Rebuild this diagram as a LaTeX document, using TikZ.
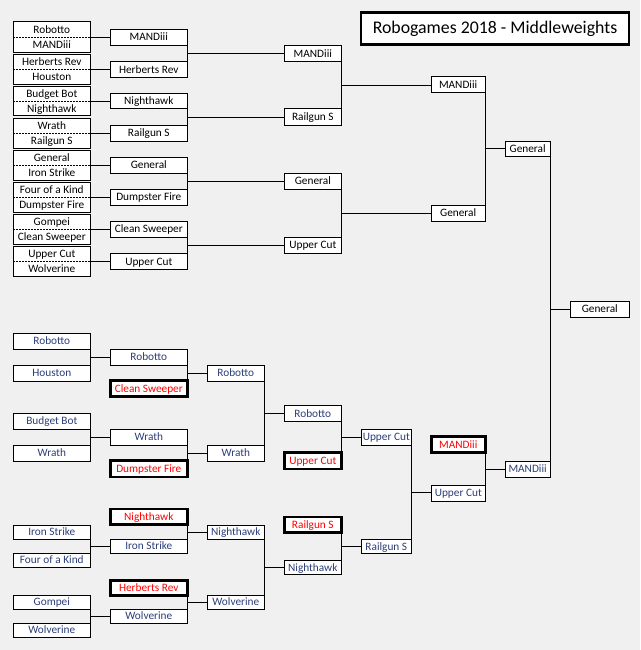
\documentclass[tikz,border=0pt]{standalone}
\usepackage{fontspec}
\setmainfont{Carlito}
\usetikzlibrary{calc}
\definecolor{bg}{HTML}{F0F0F0}
\definecolor{navy}{RGB}{44,62,120}
\definecolor{win}{HTML}{FF0000}
\newcommand\bx[7][]{\node[box,#1,minimum width={#5pt-#3pt},minimum height={#6pt-#4pt}] (#2) at ({(#3+#5)/2},{(#4+#6)/2}) {#7};}
\newcommand\pr[5]{%
  \bx{#1}{13.3}{#2}{90.3}{#3}{}
  \draw[dash pattern=on 2pt off 1pt,line width=0.8pt] (#1.west) -- (#1.east);
  \node[txt] (#1a) at ($(#1.center)!0.5!(#1.north)$) {#4};
  \node[txt] (#1b) at ($(#1.center)!0.5!(#1.south)$) {#5};}
% bracket: upper box, lower box, target
\newcommand\brk[3]{%
  \draw[link] (#1.south east) -- (#2.north east);
  \coordinate (m#1#2) at ($(#1.south east)!0.5!(#2.north east)$);
  \draw[link] (m#1#2) -- (m#1#2 -| #3.west);}
\begin{document}
\begin{tikzpicture}[x=1pt,y=-1pt,
  box/.style={draw=black,fill=white,line width=1pt,inner sep=0pt,outer sep=0pt,
    font=\fontsize{11.3}{13}\selectfont,text height=7.3pt,text depth=0pt},
  txt/.style={inner sep=0pt,outer sep=0pt,font=\fontsize{11.3}{13}\selectfont,text height=7.3pt,text depth=0pt},
  winbox/.style={line width=2.6pt,text=win},
  low/.style={text=navy},
  link/.style={line width=1pt}]
\fill[bg] (0,0) rectangle (640,650);
\useasboundingbox (0,0) rectangle (640,650);

% title
\node[draw=black,fill=white,line width=2.6pt,inner sep=0pt,minimum width=268pt,minimum height=31.6pt,
  font=\fontsize{17.8}{20}\selectfont] (title) at (495,28.5) {Robogames 2018 - Middleweights};

% ---------- top bracket ----------
\pr{p1}{22}{52.5}{Robotto}{MANDiii}
\pr{p2}{54.5}{84.3}{Herberts Rev}{Houston}
\pr{p3}{86.5}{116}{Budget Bot}{Nighthawk}
\pr{p4}{118.5}{148}{Wrath}{Railgun S}
\pr{p5}{150.5}{180.3}{General}{Iron Strike}
\pr{p6}{182.3}{212}{Four of a Kind}{Dumpster Fire}
\pr{p7}{214.5}{244.3}{Gompei}{Clean Sweeper}
\pr{p8}{246.5}{276.5}{Upper Cut}{Wolverine}

\bx{t2a}{110.3}{29.3}{187.3}{45.3}{MANDiii}
\bx{t2b}{110.3}{61.5}{187.3}{77.3}{Herberts Rev}
\bx{t2c}{110.3}{93.3}{187.3}{109}{Nighthawk}
\bx{t2d}{110.3}{125.3}{187.3}{141}{Railgun S}
\bx{t2e}{110.3}{157.3}{187.3}{173}{General}
\bx{t2f}{110.3}{189.3}{187.3}{205}{Dumpster Fire}
\bx{t2g}{110.3}{221.3}{187.3}{237.3}{Clean Sweeper}
\bx{t2h}{110.3}{253.7}{187.3}{269.3}{Upper Cut}

\bx{t3a}{284}{46}{341.7}{61.7}{MANDiii}
\bx{t3b}{284}{109}{341.7}{125.3}{Railgun S}
\bx{t3c}{284}{173.3}{341.7}{189}{General}
\bx{t3d}{284}{237.3}{341.7}{253.3}{Upper Cut}

\bx{t4a}{431}{76.7}{485.3}{92.7}{MANDiii}
\bx{t4b}{431}{205}{485.3}{221}{General}

\bx{t5}{505.3}{141}{550}{156.7}{General}
\bx{fin}{570.3}{301.3}{629.3}{317.3}{General}

\foreach \p/\t in {p1/t2a,p2/t2b,p3/t2c,p4/t2d,p5/t2e,p6/t2f,p7/t2g,p8/t2h}
  \draw[link] (\p.east) -- (\p.east -| \t.west);
\brk{t2a}{t2b}{t3a}
\brk{t2c}{t2d}{t3b}
\brk{t2e}{t2f}{t3c}
\brk{t2g}{t2h}{t3d}
\brk{t3a}{t3b}{t4a}
\brk{t3c}{t3d}{t4b}
\brk{t4a}{t4b}{t5}

% ---------- bottom bracket ----------
\bx[low]{b1a}{13.3}{333.3}{90.3}{349.3}{Robotto}
\bx[low]{b1b}{13.3}{365.3}{90.3}{381.3}{Houston}
\bx[low]{b1c}{13.3}{413.3}{90.3}{429.3}{Budget Bot}
\bx[low]{b1d}{13.3}{445.3}{90.3}{461.3}{Wrath}
\bx[low]{b1e}{13.3}{525.3}{90.3}{539.3}{Iron Strike}
\bx[low]{b1f}{13.3}{553.3}{90.3}{567.3}{Four of a Kind}
\bx[low]{b1g}{13.3}{595.3}{90.3}{609.3}{Gompei}
\bx[low]{b1h}{13.3}{623.3}{90.3}{637.3}{Wolverine}

\bx[low]{b2a}{110.3}{349.3}{187.3}{365.3}{Robotto}
\bx[winbox]{b2b}{110.3}{380.7}{187.3}{396.7}{Clean Sweeper}
\bx[low]{b2c}{110.3}{429.3}{187.3}{445.3}{Wrath}
\bx[winbox]{b2d}{110.3}{460.7}{187.3}{477}{Dumpster Fire}
\bx[winbox]{b2e}{110.3}{509}{187.3}{524.7}{Nighthawk}
\bx[low]{b2f}{110.3}{539.3}{187.3}{553.3}{Iron Strike}
\bx[winbox]{b2g}{110.3}{580.7}{187.3}{595.3}{Herberts Rev}
\bx[low]{b2h}{110.3}{609.3}{187.3}{623.3}{Wolverine}

\bx[low]{b3a}{207.3}{365.3}{264.3}{381.3}{Robotto}
\bx[low]{b3b}{207.3}{445.3}{264.3}{461.3}{Wrath}
\bx[low]{b3c}{207.3}{525.3}{264.3}{539.3}{Nighthawk}
\bx[low]{b3d}{207.3}{595.3}{264.3}{609.3}{Wolverine}

\bx[low]{b4a}{284.3}{405.7}{341.3}{421.3}{Robotto}
\bx[winbox]{b4b}{284.3}{452.7}{341.3}{469}{Upper Cut}
\bx[winbox]{b4c}{284.3}{517}{341.3}{532.3}{Railgun S}
\bx[low]{b4d}{284.3}{560.3}{341.3}{574.5}{Nighthawk}

\bx[low]{b5a}{361.3}{429.3}{411.3}{445.3}{Upper Cut}
\bx[low]{b5b}{361.3}{539.7}{411.3}{553.3}{Railgun S}

\bx[winbox]{b6a}{431.3}{436.7}{485.3}{452.7}{MANDiii}
\bx[low]{b6b}{431.3}{485.3}{485.3}{501}{Upper Cut}

\bx[low]{b7}{505.3}{461.3}{550}{477.3}{MANDiii}

\brk{b1a}{b1b}{b2a}
\brk{b1c}{b1d}{b2c}
\brk{b1e}{b1f}{b2f}
\brk{b1g}{b1h}{b2h}
\brk{b2a}{b2b}{b3a}
\brk{b2c}{b2d}{b3b}
\brk{b2e}{b2f}{b3c}
\brk{b2g}{b2h}{b3d}
\brk{b3a}{b3b}{b4a}
\brk{b3c}{b3d}{b4d}
\brk{b4a}{b4b}{b5a}
\brk{b4c}{b4d}{b5b}
\brk{b5a}{b5b}{b6b}
\brk{b6a}{b6b}{b7}
\brk{t5}{b7}{fin}
\end{tikzpicture}
\end{document}
